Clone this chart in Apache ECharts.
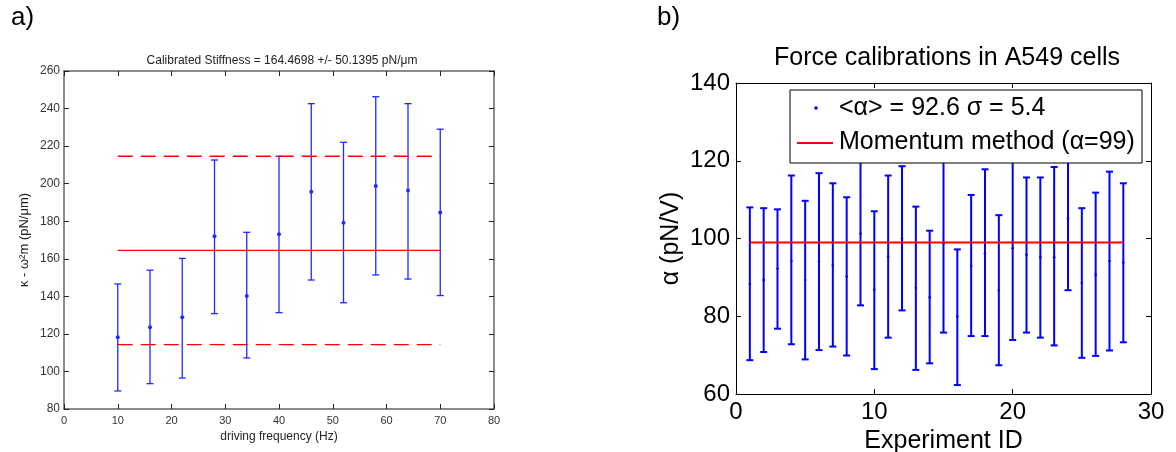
<!DOCTYPE html>
<html><head><meta charset="utf-8">
<script src="https://cdn.jsdelivr.net/npm/echarts@6/dist/echarts.min.js"></script>
<style>html,body{margin:0;padding:0;background:#fff}#c{width:1176px;height:452px}</style>
</head><body><div id="c"></div>
<script>
// ---- Panel a) data ----
const freqHz    = [10, 16, 22, 28, 34, 40, 46, 52, 58, 64, 70];
const stiffMean = [118.2, 123.5, 128.8, 172.0, 140.2, 173.0, 195.7, 179.2, 198.8, 196.3, 184.6];
const stiffLow  = [89.6, 93.5, 96.5, 130.8, 107.2, 131.3, 148.7, 136.6, 151.4, 149.2, 140.4];
const stiffHigh = [146.6, 153.9, 160.2, 212.6, 174.1, 214.6, 242.6, 222.0, 246.3, 242.6, 229.0];
const calibStiffness = 164.4698;
const calibStd = 50.1395;
const titleA = 'Calibrated Stiffness = 164.4698 +/- 50.1395 pN/\u03bcm';
const xNameA = 'driving frequency (Hz)';
const yNameA = '\u03ba - \u03c9\u00b2m (pN/\u03bcm)';

// ---- Panel b) data ----
const experimentId = [1,2,3,4,5,6,7,8,9,10,11,12,13,14,15,16,17,18,19,20,21,22,23,24,25,26,27,28];
const alphaMean = [88.3, 89.3, 92.2, 94.2, 89.3, 94.1, 93.1, 90.2, 101.3, 86.8, 95.4, 100.0, 87.3, 84.9,
                   98.7, 79.9, 92.9, 96.2, 86.6, 97.5, 95.8, 95.2, 95.2, 105.2, 88.6, 90.7, 94.2, 93.8];
const alphaLow  = [68.7, 70.8, 76.8, 72.8, 68.9, 71.3, 72.2, 69.9, 82.8, 66.4, 74.5, 81.5, 66.2, 67.9,
                   75.8, 62.3, 74.9, 74.9, 67.4, 73.9, 75.8, 74.5, 72.5, 86.7, 69.3, 69.8, 71.2, 73.3];
const alphaHigh = [108.0, 107.8, 107.5, 116.2, 109.7, 116.8, 114.2, 110.6, 119.8, 107.0, 116.2, 118.6, 108.2, 102.0,
                   121.6, 97.2, 111.2, 117.8, 106.0, 121.1, 115.7, 115.7, 118.4, 123.7, 107.8, 111.8, 117.2, 114.2];
const momentumAlpha = 99;
const titleB = 'Force calibrations in A549 cells';
const xNameB = 'Experiment ID';
const yNameB = '\u03b1 (pN/V)';
const legendB = ['<\u03b1> = 92.6 \u03c3 = 5.4', 'Momentum method (\u03b1=99)'];
const panelLabels = ['a)', 'b)'];

const FONT = '"Liberation Sans", Arial, Helvetica, sans-serif';

function errorBar(capHalf, lw, color, dotR) {
  return function (params, api) {
    const x = api.value(0), lo = api.value(1), hi = api.value(2), mid = api.value(3);
    const pHi = api.coord([x, hi]), pLo = api.coord([x, lo]), pMid = api.coord([x, mid]);
    const st = { stroke: color, lineWidth: lw, fill: null };
    return { type: 'group', children: [
      { type: 'line', shape: { x1: pHi[0], y1: pHi[1], x2: pLo[0], y2: pLo[1] }, style: st },
      { type: 'line', shape: { x1: pHi[0] - capHalf, y1: pHi[1], x2: pHi[0] + capHalf, y2: pHi[1] }, style: st },
      { type: 'line', shape: { x1: pLo[0] - capHalf, y1: pLo[1], x2: pLo[0] + capHalf, y2: pLo[1] }, style: st },
      { type: 'circle', shape: { cx: pMid[0], cy: pMid[1], r: dotR }, style: { fill: color, stroke: null } }
    ]};
  };
}

function axisBase(opts) {
  return Object.assign({
    type: 'value',
    splitLine: { show: false },
    axisTick: { show: true, inside: true, length: opts.tickLen, lineStyle: { color: opts.tickColor, width: 1 } },
    axisLine: { show: true, onZero: false, lineStyle: { color: opts.lineColor, width: opts.lineWidth } },
  }, opts.extra);
}

const A = { tickLen: 5, tickColor: '#222', lineColor: '#666', lineWidth: 1.5 };
const B = { tickLen: 5, tickColor: '#000', lineColor: '#000', lineWidth: 1 };
const lblA = { color: '#333', fontSize: 11, fontFamily: FONT };
const lblB = { color: '#000', fontSize: 24, fontFamily: FONT };

const option = {
  backgroundColor: '#fff',
  animation: false,
  title: [
    { text: titleA, left: 277, top: 50, textAlign: 'center',
      textStyle: { fontSize: 12, fontWeight: 'normal', color: '#222', fontFamily: FONT } },
    { text: titleB, left: 942, top: 41, textAlign: 'center',
      textStyle: { fontSize: 25, fontWeight: 'normal', color: '#000', fontFamily: FONT } }
  ],
  grid: [
    { left: 64, top: 71, width: 430, height: 338, outerBoundsMode: 'none', containLabel: false },
    { left: 736, top: 83, width: 415, height: 311, outerBoundsMode: 'none', containLabel: false }
  ],
  xAxis: [
    axisBase(Object.assign({}, A, { extra: { gridIndex: 0, position: 'bottom', min: 0, max: 80, interval: 10,
      axisLabel: Object.assign({ margin: 6 }, lblA),
      name: xNameA, nameLocation: 'middle', nameGap: 22,
      nameTextStyle: { fontSize: 12, color: '#222', fontFamily: FONT } } })),
    axisBase(Object.assign({}, A, { extra: { gridIndex: 0, position: 'top', min: 0, max: 80, interval: 10,
      axisLabel: { show: false } } })),
    axisBase(Object.assign({}, B, { extra: { gridIndex: 1, position: 'bottom', min: 0, max: 30, interval: 10,
      axisLabel: Object.assign({ margin: 6 }, lblB),
      name: xNameB, nameLocation: 'middle', nameGap: 32,
      nameTextStyle: { fontSize: 25, color: '#000', fontFamily: FONT } } })),
    axisBase(Object.assign({}, B, { extra: { gridIndex: 1, position: 'top', min: 0, max: 30, interval: 10,
      axisLabel: { show: false } } }))
  ],
  yAxis: [
    axisBase(Object.assign({}, A, { extra: { gridIndex: 0, position: 'left', min: 80, max: 260, interval: 20,
      axisLabel: Object.assign({ margin: 4 }, lblA, { fontSize: 12 }),
      name: yNameA, nameLocation: 'middle', nameGap: 33,
      nameTextStyle: { fontSize: 13, color: '#222', fontFamily: FONT } } })),
    axisBase(Object.assign({}, A, { extra: { gridIndex: 0, position: 'right', min: 80, max: 260, interval: 20,
      axisLabel: { show: false } } })),
    axisBase(Object.assign({}, B, { extra: { gridIndex: 1, position: 'left', min: 60, max: 140, interval: 20,
      axisLabel: Object.assign({ margin: 6 }, lblB),
      name: yNameB, nameLocation: 'middle', nameGap: 52,
      nameTextStyle: { fontSize: 25, color: '#000', fontFamily: FONT } } })),
    axisBase(Object.assign({}, B, { extra: { gridIndex: 1, position: 'right', min: 60, max: 140, interval: 20,
      axisLabel: { show: false } } }))
  ],
  series: [
    { type: 'custom', xAxisIndex: 0, yAxisIndex: 0, z: 2,
      renderItem: errorBar(3.5, 1.3, '#1f2bff', 2),
      encode: { x: 0, y: [1, 2] },
      data: freqHz.map((f, i) => [f, stiffLow[i], stiffHigh[i], stiffMean[i]]) },
    { type: 'line', xAxisIndex: 0, yAxisIndex: 0, z: 5, symbol: 'none', silent: true,
      lineStyle: { color: '#ff0000', width: 1.3 },
      data: [[freqHz[0], calibStiffness], [freqHz[freqHz.length - 1], calibStiffness]] },
    { type: 'line', xAxisIndex: 0, yAxisIndex: 0, z: 5, symbol: 'none', silent: true,
      lineStyle: { color: '#ff0000', width: 1.3, type: [15, 8] },
      data: [[freqHz[0], calibStiffness + calibStd], [freqHz[freqHz.length - 1], calibStiffness + calibStd]] },
    { type: 'line', xAxisIndex: 0, yAxisIndex: 0, z: 5, symbol: 'none', silent: true,
      lineStyle: { color: '#ff0000', width: 1.3, type: [15, 8] },
      data: [[freqHz[0], calibStiffness - calibStd], [freqHz[freqHz.length - 1], calibStiffness - calibStd]] },
    { type: 'custom', xAxisIndex: 2, yAxisIndex: 2, z: 2,
      renderItem: errorBar(3.5, 2, '#0000ff', 1.3),
      encode: { x: 0, y: [1, 2] },
      data: experimentId.map((e, i) => [e, alphaLow[i], alphaHigh[i], alphaMean[i]]) },
    { type: 'line', xAxisIndex: 2, yAxisIndex: 2, z: 5, symbol: 'none', silent: true,
      lineStyle: { color: '#ff0000', width: 2 },
      data: [[experimentId[0], momentumAlpha], [experimentId[experimentId.length - 1], momentumAlpha]] }
  ],
  graphic: {
    zlevel: 1,
    elements: [
      { type: 'text', left: 11, top: 5, z: 100,
        style: { text: panelLabels[0], fontSize: 26, fontFamily: FONT, fill: '#000' } },
      { type: 'text', left: 657, top: 5, z: 100,
        style: { text: panelLabels[1], fontSize: 26, fontFamily: FONT, fill: '#000' } },
      { type: 'rect', zlevel: 1, z: 100, shape: { x: 790, y: 90, width: 352, height: 73 },
        style: { fill: '#fff', stroke: '#000', lineWidth: 1 } },
      { type: 'circle', zlevel: 1, z: 101, shape: { cx: 816, cy: 108, r: 1.8 }, style: { fill: '#0000ff' } },
      { type: 'text', zlevel: 1, z: 101, x: 839, y: 108,
        style: { text: legendB[0], fontSize: 25, fontFamily: FONT, fill: '#000', verticalAlign: 'middle' } },
      { type: 'line', zlevel: 1, z: 101, shape: { x1: 797, y1: 143, x2: 833, y2: 143 },
        style: { stroke: '#ff0000', lineWidth: 2 } },
      { type: 'text', zlevel: 1, z: 101, x: 839, y: 142,
        style: { text: legendB[1], fontSize: 25, fontFamily: FONT, fill: '#000', verticalAlign: 'middle' } }
    ]
  }
};

const chart = echarts.init(document.getElementById('c'), null, { renderer: 'canvas' });
chart.setOption(option);
</script>
</body></html>
